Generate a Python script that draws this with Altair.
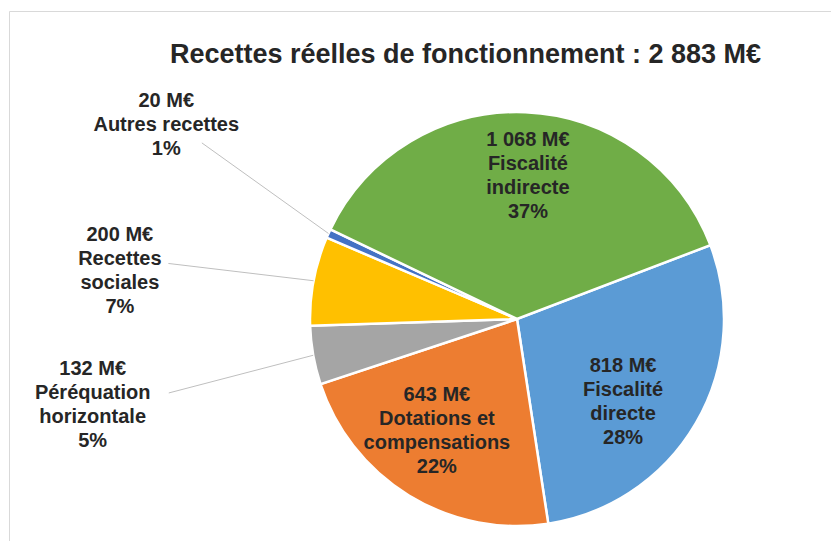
import math
import altair as alt
import pandas as pd

# ---- data ----
categories = ["Fiscalité directe", "Dotations et compensations", "Péréquation horizontale",
              "Recettes sociales", "Autres recettes", "Fiscalité indirecte"]
values = [818, 643, 132, 200, 20, 1068]
label_names = ["Fiscalité\ndirecte", "Dotations et\ncompensations", "Péréquation\nhorizontale",
               "Recettes\nsociales", "Autres recettes", "Fiscalité\nindirecte"]
colors = ["#5B9BD5", "#ED7D31", "#A5A5A5", "#FFC000", "#4472C4", "#70AD47"]
title_text = "Recettes réelles de fonctionnement : 2 883 M€"

# ---- layout ----
W, H = 628, 444
CX, CY = W / 2, H / 2
R = 207
START_DEG = 69.1
A0 = math.radians(START_DEG)
LH = 24
# label placement: angle offset (deg) from slice middle, label radius, leader end offset, leader radius
label_layout = {
    "Fiscalité directe": (8.0, 135, None, None),
    "Dotations et compensations": (4.0, 138, None, None),
    "Péréquation horizontale": (-1.4, 433, -1.9, 356),
    "Recettes sociales": (-3.8, 400, -1.6, 353),
    "Autres recettes": (4.6, 401, 4.8, 361),
    "Fiscalité indirecte": (2.0, 143, None, None),
}

total = sum(values)
rows = []
for i, (c, v, n) in enumerate(zip(categories, values, label_names)):
    dl, rl, de, re = label_layout[c]
    v_txt = f"{v:,}".replace(",", " ") + " M€"
    lab = f"{v_txt}\n{n}\n{round(100 * v / total)}%"
    rows.append({
        "cat": c, "v": v, "order": i,
        "label": lab, "nl": len(lab.split("\n")),
        "dl": dl, "rl": rl,
        "de": de if de is not None else 0, "re": re if re is not None else 0,
        "outside": re is not None,
    })
df = pd.DataFrame(rows)

FONT = "Liberation Sans"
TXT = "#262626"

base = alt.Chart(df)

arcs = base.mark_arc(outerRadius=R, stroke="white", strokeWidth=2.5).encode(
    theta=alt.Theta("v:Q", stack=True, scale=alt.Scale(range=[A0, A0 + 2 * math.pi])),
    order=alt.Order("order:Q"),
    color=alt.Color("cat:N", scale=alt.Scale(domain=categories, range=colors), legend=None),
)

mid = base.transform_window(
    cum="sum(v)", sort=[alt.SortField("order")], frame=[None, 0]
).transform_calculate(
    mid=f"{A0} + 2*PI*(datum.cum - datum.v/2)/{total}"
).transform_calculate(
    la="datum.mid + datum.dl*PI/180",
    ea="datum.mid + datum.de*PI/180",
).transform_calculate(
    lx=f"{CX} + datum.rl*sin(datum.la)",
    ly=f"{CY} - datum.rl*cos(datum.la) - (datum.nl - 1)*{LH}/2",
    sx=f"{CX} + {R}*sin(datum.mid)",
    sy=f"{CY} - {R}*cos(datum.mid)",
    ex=f"{CX} + datum.re*sin(datum.ea)",
    ey=f"{CY} - datum.re*cos(datum.ea)",
)

leaders = mid.transform_filter("datum.outside").mark_rule(color="#BFBFBF", strokeWidth=1).encode(
    x=alt.X("sx:Q", scale=None), y=alt.Y("sy:Q", scale=None),
    x2="ex:Q", y2="ey:Q",
)

labels = mid.mark_text(
    font=FONT, fontSize=20, fontWeight="bold", color=TXT,
    align="center", baseline="middle", lineBreak="\n", lineHeight=LH,
).encode(
    x=alt.X("lx:Q", scale=None), y=alt.Y("ly:Q", scale=None), text="label:N",
)

title = alt.Chart(pd.DataFrame({"t": [title_text]})).mark_text(
    font=FONT, fontSize=27, fontWeight="bold", color=TXT, align="center", baseline="alphabetic",
).encode(text="t:N", x=alt.value(262.5), y=alt.value(-34))

frame_df = pd.DataFrame({"k": [0]})
top_rule = alt.Chart(frame_df).mark_rule(color="#D9D9D9", strokeWidth=1).encode(
    x=alt.value(-193.5), x2=alt.value(W), y=alt.value(-85.5))
left_rule = alt.Chart(frame_df).mark_rule(color="#D9D9D9", strokeWidth=1).encode(
    x=alt.value(-193.5), y=alt.value(-85.5), y2=alt.value(H))

chart = alt.layer(top_rule, left_rule, arcs, leaders, labels, title).properties(
    width=W, height=H,
    padding={"left": 195, "top": 89, "right": 0, "bottom": 0},
    autosize=alt.AutoSizeParams(type="none"),
    background="white",
).configure_view(stroke=None)

chart.save("out.html", embed_options={"renderer": "svg", "actions": False})
